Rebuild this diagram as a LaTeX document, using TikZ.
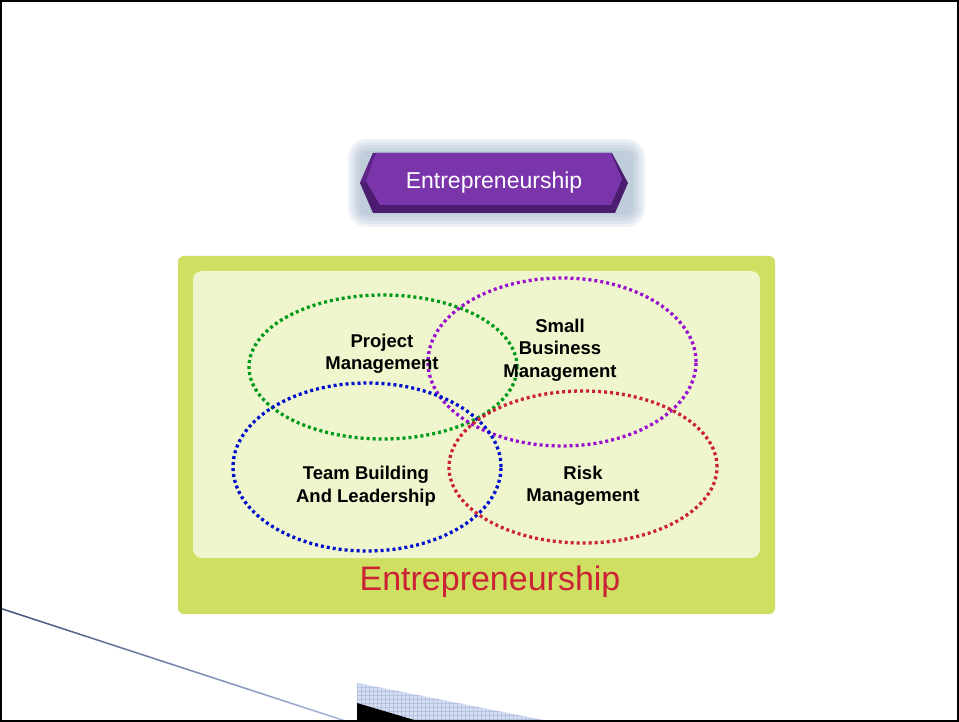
\documentclass[tikz,border=0pt]{standalone}
\usepackage{fontspec}
\setmainfont{Liberation Sans}
\usetikzlibrary{shapes.geometric,patterns}
\definecolor{outergreen}{HTML}{CEDF62}
\definecolor{innergreen}{HTML}{EFF5CC}
\definecolor{cgreen}{HTML}{009A1A}
\definecolor{cpurple}{HTML}{9A10D0}
\definecolor{cblue}{HTML}{0010CC}
\definecolor{cred}{HTML}{CC2236}
\definecolor{bfront}{HTML}{7A35AA}
\definecolor{bdark}{HTML}{4C1C70}
\definecolor{bside}{HTML}{5E2588}
\definecolor{halo}{HTML}{8DA6C2}
\definecolor{lineA}{HTML}{3E5278}
\definecolor{lineB}{HTML}{A9BADB}
\definecolor{patfill}{HTML}{D6DFF1}
\definecolor{patline}{HTML}{B4C3E3}
\begin{document}
\begin{tikzpicture}[x=1pt,y=-1pt,
  ring/.style={ellipse,draw,line width=3.3pt,dash pattern=on 3pt off 3pt,inner sep=0pt},
  lbl/.style={align=center,font=\fontsize{18.5}{22.5}\selectfont\bfseries,text=black,inner sep=0pt}]
\useasboundingbox (0,0) rectangle (959,722);
\fill[white] (0,0) rectangle (959,722);
% bottom-left decoration
\coordinate (ls) at (0,609);
\coordinate (le) at (346,722);
\shade[left color=lineA,right color=lineB] (ls) -- (le) -- ([yshift=1.6pt]le) -- ([yshift=1.6pt]ls) -- cycle;
\coordinate (pa) at (357,683);
\coordinate (pb) at (553,722);
\coordinate (pc) at (357,722);
\fill[patfill] (pa) -- (pb) -- (pc) -- cycle;
\begin{scope}
\clip (pa) -- (pb) -- (pc) -- cycle;
\foreach \i in {357,361,...,560} \draw[patline,line width=0.6pt] (\i,680) -- (\i,722);
\foreach \j in {683,687,...,722} \draw[patline,line width=0.6pt] (357,\j) -- (560,\j);
\end{scope}
\fill[black] (357,703) -- (421,722) -- (357,722) -- cycle;
% banner halo
\foreach \d in {13,10,7,4,1}
  \fill[halo,opacity=0.14,rounded corners=\d pt+6pt] (361-\d,152-\d) rectangle (632+\d,214+\d);
% banner
\fill[bdark] (360,183) -- (373,153) -- (612,153) -- (628,183) -- (615,213) -- (373,213) -- cycle;
\fill[bside] (360,183) -- (373,153) -- (378,158) -- (366,182) -- cycle;
\fill[bfront] (366,181) -- (376,153) -- (611,153) -- (622,179) -- (611,205) -- (380,205) -- cycle;
\node[text=white,font=\fontsize{23}{26}\selectfont,inner sep=0pt] (bannertext) at (494,183) {Entrepreneurship};
% boxes
\fill[outergreen,rounded corners=6pt] (178,256) rectangle (775,614);
\fill[innergreen,rounded corners=9pt] (193,271) rectangle (760,558);
\node[text=cred,font=\fontsize{34}{38}\selectfont,inner sep=0pt] (title) at (490,582) {Entrepreneurship};
% rings
\node[ring,draw=cgreen,minimum width=268pt,minimum height=144pt] (pm) at (383,367) {};
\node[ring,draw=cpurple,minimum width=268pt,minimum height=168pt] (sb) at (562,362) {};
\node[ring,draw=cblue,minimum width=268pt,minimum height=168pt] (tb) at (367,467) {};
\node[ring,draw=cred,minimum width=268pt,minimum height=152pt] (rm) at (583,467) {};
% labels
\node[lbl] (pmt) at (382,354) {Project\\Management};
\node[lbl] (sbt) at (560,350) {Small\\Business\\Management};
\node[lbl] (tbt) at (366,486) {Team Building\\And Leadership};
\node[lbl] (rmt) at (583,486) {Risk\\Management};
% frame
\draw[black,line width=2.5pt] (1,1) rectangle (958,721);
\end{tikzpicture}
\end{document}
